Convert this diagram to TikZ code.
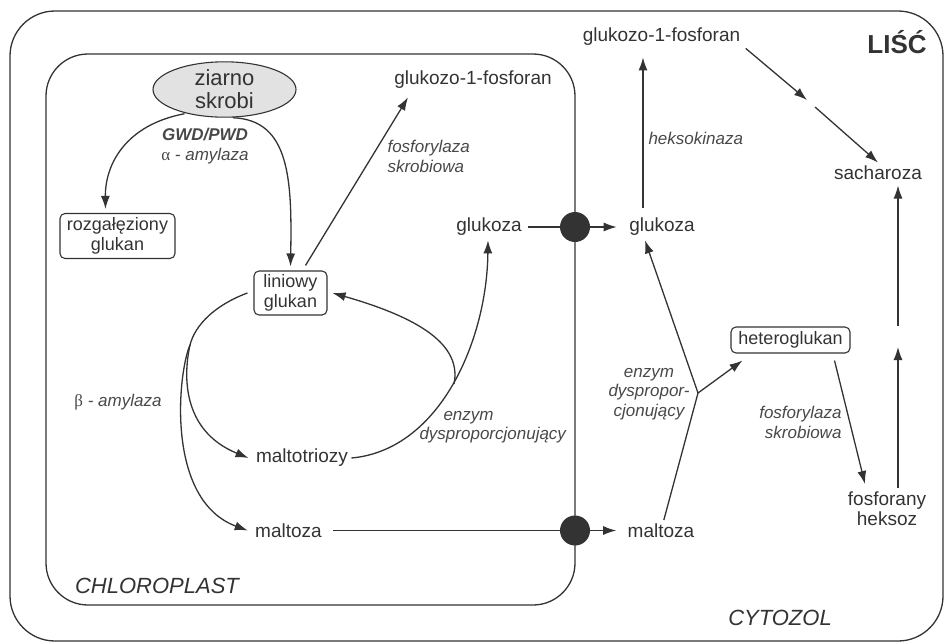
\documentclass[tikz,border=0pt]{standalone}
\usepackage{fontspec}
\setmainfont{Liberation Sans}
\newfontfamily\grk{Liberation Serif}
\usetikzlibrary{arrows.meta,shapes.geometric}
\definecolor{ink}{HTML}{333333}
\definecolor{lab}{HTML}{484848}
\definecolor{grainfill}{HTML}{E2E2E2}
\begin{document}
\begin{tikzpicture}[x=1pt,y=-1pt,
  every node/.style={text=ink},
  txt/.style={font=\fontsize{19}{20}\selectfont, align=center},
  lbl/.style={font=\fontsize{17}{19.5}\selectfont\itshape, text=lab},
  big/.style={font=\fontsize{22}{24}\selectfont\itshape},
  box/.style={font=\fontsize{18}{20}\selectfont, align=center, draw=ink, line width=1.1pt, rounded corners=5pt, inner sep=2pt},
  con/.style={draw=ink, line width=1.3pt},
  arr/.style={con, -{Latex[length=13pt,width=9pt]}},
  region/.style={draw=ink, line width=1.3pt, rounded corners=45pt},
  dotnode/.style={circle, fill=ink, minimum size=30pt, inner sep=0pt}
]
\useasboundingbox (0,0) rectangle (944,643);
% regions
\draw[region] (10,11) rectangle (943,641);
\draw[region, rounded corners=42pt] (46,54) rectangle (575,605);

% nodes
\node[ellipse, draw=ink, fill=grainfill, line width=1.1pt, minimum width=143pt, minimum height=55pt, inner sep=0pt,
      font=\fontsize{22}{23}\selectfont, align=center] (grain) at (224.5,89.5) {ziarno\\skrobi};
\node[box, minimum width=115pt, minimum height=45pt] (roz) at (117.5,236) {rozgałęziony\\glukan};
\node[box, minimum width=73pt, minimum height=44pt] (lin) at (290.5,293) {liniowy\\glukan};
\node[box, minimum width=119pt, minimum height=26pt] (het) at (790.5,340) {heteroglukan};

\node[txt] (g1p1) at (473,80) {glukozo-1-fosforan};
\node[txt] (glu1) at (489,227) {glukoza};
\node[txt] (mtri) at (302,458) {maltotriozy};
\node[txt] (malt1) at (288.5,530.5) {maltoza};
\node[txt] (g1p2) at (661.5,37) {glukozo-1-fosforan};
\node[txt] (glu2) at (662,227) {glukoza};
\node[txt] (malt2) at (661,530.5) {maltoza};
\node[txt] (sach) at (878,173) {sacharoza};
\node[txt] (fos) at (887,508.5) {fosforany\\heksoz};

% labels
\node[lbl, align=center] (gwd) at (205,146) {\textbf{GWD/PWD}\\{\upshape\grk α} - amylaza};
\node[lbl] (beta) at (118,402) {{\upshape\grk β} - amylaza};
\node[lbl, align=left, anchor=west] (fsk1) at (384,156.5) {fosforylaza\\skrobiowa};
\node[lbl, anchor=west] (heks) at (645,138) {heksokinaza};
\node[lbl, align=left, anchor=west] (enz1) at (416,427) {\hspace*{24pt}enzym\\dysproporcjonujący};
\node[lbl, align=center] (enz2) at (649,394) {enzym\\dyspropor-\\cjonujący};
\node[lbl, align=right, anchor=east] (fsk2) at (845,422.5) {fosforylaza\\skrobiowa};
\node[font=\fontsize{26}{28}\selectfont\bfseries] (lisc) at (897,42) {LIŚĆ};
\node[big] (chl) at (157,586) {CHLOROPLAST};
\node[big] (cyt) at (780,618) {CYTOZOL};

% coordinates
\coordinate (split) at (190,345);
\coordinate (ret) at (454,384);
\coordinate (jn) at (698,393);
\coordinate (gapA) at (807,100);
\coordinate (gapB) at (815,107);
\coordinate (vgapA) at (898,347);
\coordinate (vgapB) at (898,326);

% connectors in chloroplast
\draw[arr] ([xshift=-40pt,yshift=4pt]grain.south) .. controls (125,125) and (105,165) .. ([xshift=-12pt,yshift=4pt]roz.north);
\draw[arr] ([xshift=8.5pt]grain.south) .. controls (290,120) and (292,180) .. ([yshift=4pt]lin.north);
\draw[arr] ([xshift=15pt,yshift=5pt]lin.north) -- ([xshift=-65pt,yshift=-5pt]g1p1.south);
\draw[con] ([xshift=-6pt]lin.west) .. controls (215,305) and (195,325) .. (split);
\draw[arr] (split) .. controls (184,372) and (180,430) .. ([xshift=-4pt]mtri.west);
\draw[arr] (split) .. controls (178,372) and (165,500) .. ([xshift=-4pt]malt1.west);
\draw[arr] (mtri.east) .. controls (440,450) and (487,340) .. ([xshift=-1pt,yshift=-1pt]glu1.south);
\draw[arr] (ret) .. controls (462,345) and (420,318) .. ([xshift=5pt]lin.east);

% transport through envelope
\node[dotnode] (dot1) at (575,227) {};
\node[dotnode] (dot2) at (575,530.5) {};
\draw[con] ([xshift=3pt]glu1.east) -- (dot1);
\draw[arr] (dot1) -- ([xshift=-9pt]glu2.west);
\draw[con] ([xshift=8pt]malt1.east) -- (dot2);
\draw[arr] (dot2) -- ([xshift=-8pt]malt2.west);

% cytosol
\draw[arr] ([xshift=-19pt,yshift=7pt]glu2.north) -- ([xshift=-18.5pt,yshift=-8pt]g1p2.south);
\draw[arr] ([xshift=2pt,yshift=1pt]g1p2.south east) -- (gapA);
\draw[arr] (gapB) -- (sach.north);
\draw[con] (malt2) -- (jn);
\draw[arr] (jn) -- ([xshift=-17pt,yshift=-1pt]glu2.south);
\draw[arr] (jn) -- ([xshift=12pt,yshift=-7pt]het.south west);
\draw[arr] ([xshift=44pt,yshift=-7pt]het.south) -- ([xshift=-22pt,yshift=4pt]fos.north);
\draw[arr] ([xshift=11pt]fos.north) -- (vgapA);
\draw[arr] (vgapB) -- ([xshift=20pt,yshift=-2pt]sach.south);
\end{tikzpicture}
\end{document}
